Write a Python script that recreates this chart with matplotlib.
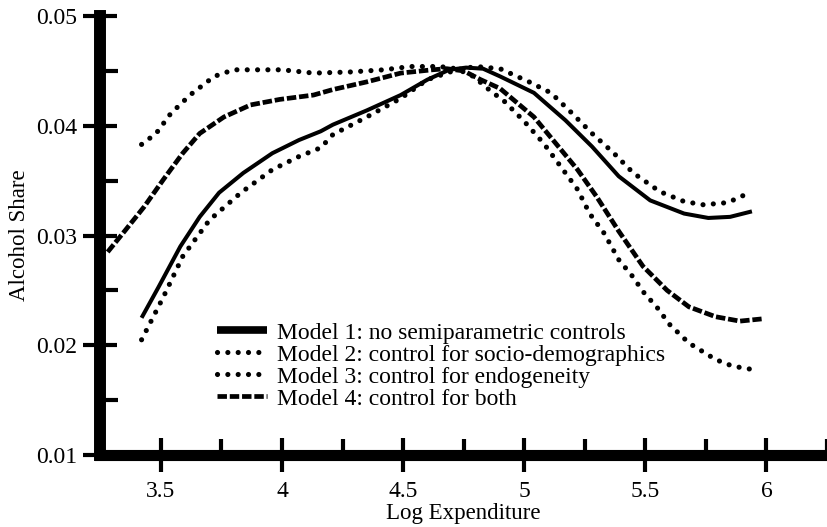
import matplotlib
matplotlib.use("Agg")
import matplotlib.pyplot as plt
from matplotlib.lines import Line2D
from matplotlib.ticker import MultipleLocator

plt.rcParams['font.family'] = ['Liberation Serif', 'DejaVu Serif']

# engel curves for alcohol, four model specifications
m1_x = [3.42, 3.49, 3.58, 3.66, 3.74, 3.84, 3.96, 4.07, 4.16, 4.21, 4.35, 4.49, 4.60,
        4.69, 4.76, 4.83, 4.90, 5.04, 5.17, 5.28, 5.39, 5.52, 5.66, 5.76, 5.85, 5.94]
m1_y = [0.0225, 0.0253, 0.0290, 0.0317, 0.0339, 0.0357, 0.0375, 0.0387, 0.0395, 0.0401,
        0.0414, 0.0428, 0.0442, 0.0451, 0.0453, 0.0452, 0.0445, 0.0430, 0.0405, 0.0381,
        0.0354, 0.0332, 0.0320, 0.0316, 0.0317, 0.0322]

m2_x = [3.42, 3.51, 3.59, 3.70, 3.83, 3.96, 4.07, 4.16, 4.21, 4.35, 4.49, 4.60, 4.72,
        4.80, 4.90, 5.02, 5.11, 5.19, 5.28, 5.37, 5.45, 5.56, 5.66, 5.74, 5.84, 5.93]
m2_y = [0.0205, 0.0244, 0.0281, 0.0314, 0.0339, 0.0360, 0.0372, 0.0380, 0.0392, 0.0408,
        0.0425, 0.0442, 0.0451, 0.0454, 0.0452, 0.0440, 0.0430, 0.0413, 0.0393, 0.0375,
        0.0357, 0.0340, 0.0331, 0.0328, 0.0330, 0.0339]

m3_x = [3.42, 3.48, 3.54, 3.62, 3.72, 3.80, 3.88, 4.00, 4.13, 4.28, 4.42, 4.53, 4.65,
        4.72, 4.79, 4.87, 4.91, 5.00, 5.08, 5.15, 5.22, 5.27, 5.33, 5.39, 5.45, 5.49,
        5.55, 5.60, 5.68, 5.79, 5.86, 5.94]
m3_y = [0.0383, 0.0393, 0.0411, 0.0428, 0.0445, 0.0451, 0.0451, 0.0451, 0.0448, 0.0449,
        0.0451, 0.0454, 0.0454, 0.0452, 0.0445, 0.0430, 0.0424, 0.0404, 0.0384, 0.0363,
        0.0342, 0.0320, 0.0302, 0.0278, 0.0262, 0.0249, 0.0234, 0.0219, 0.0202, 0.0187,
        0.0181, 0.0178]

m4_x = [3.28, 3.35, 3.43, 3.51, 3.59, 3.66, 3.76, 3.87, 3.99, 4.13, 4.21, 4.35, 4.49,
        4.62, 4.68, 4.75, 4.82, 4.90, 5.04, 5.13, 5.22, 5.30, 5.39, 5.49, 5.59, 5.68,
        5.79, 5.89, 5.98]
m4_y = [0.0285, 0.0304, 0.0326, 0.0351, 0.0375, 0.0393, 0.0408, 0.0419, 0.0424, 0.0428,
        0.0433, 0.0440, 0.0448, 0.0451, 0.0452, 0.0450, 0.0442, 0.0434, 0.0408, 0.0384,
        0.0360, 0.0335, 0.0304, 0.0272, 0.0250, 0.0235, 0.0226, 0.0222, 0.0224]

labels = ["Model 1: no semiparametric controls",
          "Model 2: control for socio-demographics",
          "Model 3: control for endogeneity",
          "Model 4: control for both"]

xticks = [3.5, 4, 4.5, 5, 5.5, 6]
xticklabels = ["3.5", "4", "4.5", "5", "5.5", "6"]
yticks = [0.01, 0.02, 0.03, 0.04, 0.05]
yticklabels = ["0.01", "0.02", "0.03", "0.04", "0.05"]

dots = (0, (0.01, 2.0))
dashes = (0, (2.0, 0.6))

fig = plt.figure(figsize=(8.27, 5.27), dpi=100)
ax = fig.add_axes([0.1214, 0.1366, 1 - 0.1214, 0.9696 - 0.1366])

ax.plot(m1_x, m1_y, color="black", lw=2.9, solid_capstyle="butt")
ax.plot(m2_x, m2_y, color="black", lw=3.7, linestyle=dots, dash_capstyle="round")
ax.plot(m3_x, m3_y, color="black", lw=3.7, linestyle=dots, dash_capstyle="round")
ax.plot(m4_x, m4_y, color="black", lw=3.4, linestyle=dashes, dash_capstyle="butt")

ax.set_xlim(3.25, 6.25)
ax.set_ylim(0.01, 0.05)

for side in ["top", "right"]:
    ax.spines[side].set_visible(False)
ax.spines["left"].set_linewidth(8.6)
ax.spines["bottom"].set_linewidth(8.0)
ax.spines["left"].set_capstyle("projecting")
ax.spines["bottom"].set_capstyle("projecting")

ax.set_xticks(xticks)
ax.set_xticklabels(xticklabels)
ax.set_yticks(yticks)
ax.set_yticklabels(yticklabels)
ax.xaxis.set_minor_locator(MultipleLocator(0.25))
ax.yaxis.set_minor_locator(MultipleLocator(0.005))

ax.tick_params(axis="x", which="major", direction="inout", length=25, width=3,
               pad=6, labelsize=17)
ax.tick_params(axis="y", which="major", direction="inout", length=24, width=3,
               pad=5, labelsize=17)
ax.tick_params(axis="x", which="minor", direction="in", length=11.5, width=3)
ax.tick_params(axis="y", which="minor", direction="in", length=13, width=3)

ax.set_xlabel("Log Expenditure", fontsize=16.5, labelpad=1)
ax.set_ylabel("Alcohol Share", fontsize=16.5, labelpad=4)

handles = [Line2D([], [], color="black", lw=5.5, solid_capstyle="butt"),
           Line2D([], [], color="black", lw=3.7, linestyle=dots, dash_capstyle="round"),
           Line2D([], [], color="black", lw=3.7, linestyle=dots, dash_capstyle="round"),
           Line2D([], [], color="black", lw=3.4, linestyle=dashes, dash_capstyle="butt")]
ax.legend(handles, labels, loc="upper left", bbox_to_anchor=(0.1605, 0.303),
          frameon=False, fontsize=17, handlelength=2.1, handletextpad=0.45,
          labelspacing=0.02, borderpad=0, borderaxespad=0)

fig.savefig("out.png", dpi=100)
